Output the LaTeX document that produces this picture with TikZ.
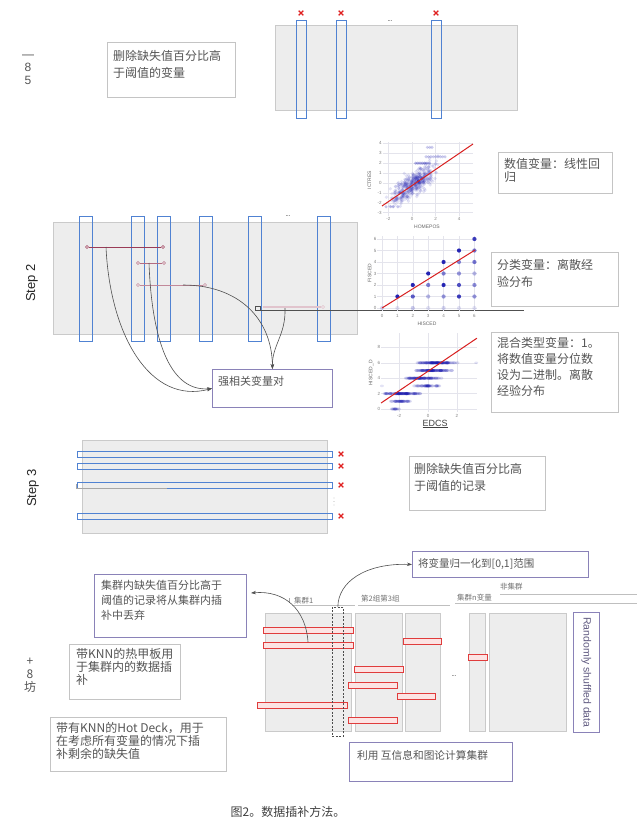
\documentclass[tikz,border=0pt]{standalone}
\usepackage{fontspec}
\setmainfont{Liberation Sans}
\newfontfamily\cjk{Noto Sans CJK SC}
\usetikzlibrary{arrows.meta}
\definecolor{txt}{HTML}{555555}
\definecolor{boxgray}{HTML}{C4C4C4}
\definecolor{purp}{HTML}{8A82B8}
\definecolor{datafill}{HTML}{EDEDED}
\definecolor{dataedge}{HTML}{CACACA}
\definecolor{barblue}{HTML}{5082D2}
\definecolor{redx}{HTML}{E02020}
\definecolor{redbar}{HTML}{E03C3C}
\definecolor{redfill}{HTML}{FCE4E4}
\definecolor{maroon}{HTML}{9A3B57}
\definecolor{conncol}{HTML}{505050}
\definecolor{gridc}{HTML}{E4E4EC}
\definecolor{dotblue}{HTML}{1A1AB0}
\definecolor{regred}{HTML}{D82020}
\newcommand\mkredx[2]{\draw[redx, line width=1.3pt] (#1-2.3,#2-2.3) -- (#1+2.3,#2+2.3) (#1-2.3,#2+2.3) -- (#1+2.3,#2-2.3);}
\begin{document}
\begin{tikzpicture}[x=1pt,y=-1pt,
  databox/.style={fill=datafill, draw=dataedge, line width=0.7pt},
  bluebar/.style={draw=barblue, fill=none, line width=0.8pt},
  redrect/.style={draw=redbar, fill=redfill, line width=0.8pt},
  graybox/.style={draw=boxgray, line width=0.8pt, fill=white, anchor=north west, inner sep=0pt},
  purpbox/.style={draw=purp, line width=0.9pt, fill=white, anchor=north west, inner sep=0pt},
  boxtext/.style={anchor=north west, inner sep=0pt, align=left, text=txt},
  conn/.style={draw=conncol, line width=0.6pt, -{Stealth[length=5pt,width=3.5pt]}},
  paircirc/.style={circle, draw=maroon, fill=white, inner sep=0pt, minimum size=3pt, line width=0.6pt},
  ticklab/.style={font=\fontsize{4.5}{5}\selectfont, text=gray, inner sep=0.8pt},
  axlab/.style={font=\fontsize{5}{6}\selectfont, text=gray!80!black, inner sep=0pt},
  cluslab/.style={font=\cjk\fontsize{7.5}{8}\selectfont, text=gray!90!black, inner sep=0pt},
  steplab/.style={rotate=90, font=\fontsize{13}{14}\selectfont, text=black!85, inner sep=0pt}]
\useasboundingbox (0,0) rectangle (641,828);
\fill[white] (0,0) rectangle (641,828);

%%%%%%%%%%%%%%%% STEP 1
\node[font=\fontsize{12}{13}\selectfont, text=txt, align=center, inner sep=0pt] (s1lab) at (28,70) {—\\8\\5};
\draw[databox] (275,25) rectangle (517,110);
\foreach \bx in {296,336,431}{\draw[bluebar] (\bx,20) rectangle (\bx+10,118);}
\mkredx{301}{13}\mkredx{341}{13}\mkredx{436}{13}
\node[font=\fontsize{6}{6}\selectfont, inner sep=0pt] (s1dots) at (390,21) {...};
\node[graybox, minimum width=128pt, minimum height=55pt] (b1) at (107,42) {};
\node[boxtext, font=\cjk\fontsize{12}{17}\selectfont] (t1) at (113,50) {删除缺失值百分比高\\于阈值的变量};

%%%%%%%%%%%%%%%% STEP 2
\node[steplab] (s2lab) at (32,283) {Step 2};
\draw[databox] (53,222) rectangle (357,334);
\foreach \bx in {79,131,157,199,248,317}{\draw[bluebar] (\bx,216) rectangle (\bx+13,341);}
\node[font=\fontsize{6}{6}\selectfont, inner sep=0pt] (s2dots) at (288,216) {...};
\draw[conncol, line width=0.7pt] (255,310) -- (255,306.5) -- (260,306.5) -- (260,310);
\draw[conncol, line width=0.7pt] (255,310) -- (524,310);
\node[paircirc] (p1a) at (87,247) {};
\node[paircirc] (p1b) at (163,247) {};
\draw[maroon, line width=0.8pt] (p1a) -- (p1b);
\node[paircirc, draw=maroon!75] (p2a) at (138,263) {};
\node[paircirc, draw=maroon!75] (p2b) at (164,263) {};
\draw[maroon!75, line width=0.8pt] (p2a) -- (p2b);
\node[paircirc, draw=maroon!60] (p3a) at (138,285) {};
\node[paircirc, draw=maroon!60] (p3b) at (205,285) {};
\draw[maroon!60, line width=0.8pt] (p3a) -- (p3b);
\node[paircirc, draw=maroon!35] (p4b) at (323,307) {};
\draw[maroon!30, line width=1.6pt] (263,307) -- (p4b);
\coordinate (q1) at (106,247);
\coordinate (q2) at (149,263);
\coordinate (q3) at (183,285);
\coordinate (q4) at (285,308);
\node[purpbox, minimum width=120pt, minimum height=38pt] (b2) at (212,369) {};
\node[boxtext, font=\cjk\fontsize{11}{13}\selectfont] (t2) at (218,376) {强相关变量对};
\draw[conn] (q1) .. controls (110,335) and (150,405) .. (b2.west);
\draw[conn] (q2) .. controls (152,345) and (172,392) .. (b2.west);
\draw[conn] (q3) .. controls (238,285) and (272,318) .. (b2.north);
\draw[conn] (q4) .. controls (286,335) and (272,345) .. (b2.north);

%%%%%%%%%%%%%%%% PLOT 1
\begin{scope}[shift={(412,183)}, x=11.8pt, y=9.9pt]
  \foreach \gx in {-2,0,2,4}{\draw[gridc, line width=0.5pt] (\gx,-3.35) -- (\gx,4.15);}
  \foreach \gy in {-3,...,4}{\draw[gridc, line width=0.5pt] (-2.5,\gy) -- (5.2,\gy);}
  \foreach \gy [count=\k] in {-3,...,4}{\node[ticklab, anchor=east] (pay\k) at (-2.5,\gy) {\gy};}
  \foreach \gx [count=\k] in {-2,0,2,4}{\node[ticklab, anchor=north] (pax\k) at (\gx,-3.35) {\gx};}
  \node[axlab] (pxl) at (1.27,-4.45) {HOMEPOS};
  \node[axlab, rotate=90] (pyl) at (-3.6,0.3) {ICTRES};
  \begin{scope}
    \clip (-2.5,-3.35) rectangle (5.2,4.15);
    \pgfmathsetseed{42}
    \foreach \i in {1,...,480}{
      \pgfmathsetmacro\sa{rand+rand+rand}
      \pgfmathsetmacro\sb{rand+rand+rand}
      \pgfmathsetmacro\px{0.15+0.85*\sa}
      \pgfmathsetmacro\py{-0.1+0.75*(\px-0.15)+0.6*\sb}
      \fill[dotblue, opacity=0.12] (\px,\py) circle (1.8pt);
    }
    \foreach \px in {0.3,0.45,...,1.6}{\fill[dotblue, opacity=0.3] (\px,2) circle (1.7pt);}
    \foreach \px in {1.2,1.4,...,2.8}{\fill[dotblue, opacity=0.22] (\px,2.65) circle (1.7pt);}
    \foreach \px in {1.3,1.5,1.7}{\fill[dotblue, opacity=0.22] (\px,3.6) circle (1.7pt);}
    \foreach \px in {-1.8,-1.6,-1.2,-2.2}{\fill[dotblue, opacity=0.25] (\px,-2.4) circle (1.7pt);}
  \end{scope}
  \draw[regred, line width=1pt] (-2.54,-2.32) -- (5.17,3.94);
\end{scope}
\node[graybox, minimum width=114pt, minimum height=41pt] (b3) at (498,152) {};
\node[boxtext, font=\cjk\fontsize{12}{13.5}\selectfont] (t3) at (504,158) {数值变量：线性回\\归};

%%%%%%%%%%%%%%%% PLOT 2
\begin{scope}[shift={(382,308)}, x=15.4pt, y=11.5pt]
  \foreach \gx in {0,...,6}{\draw[gridc, line width=0.5pt] (\gx,-0.25) -- (\gx,6.3);}
  \foreach \gy in {0,...,6}{\draw[gridc, line width=0.5pt] (-0.3,\gy) -- (6.2,\gy);}
  \foreach \gy [count=\k] in {0,...,6}{\node[ticklab, anchor=east] (pby\k) at (-0.3,\gy) {\gy};}
  \foreach \gx [count=\k] in {0,...,6}{\node[ticklab, anchor=north] (pbx\k) at (\gx,-0.5) {\gx};}
  \node[axlab] (pbxl) at (2.92,-1.4) {HISCED};
  \node[axlab, rotate=90] (pbyl) at (-0.8,3.04) {FISCED};
  \foreach \px/\py/\op in {0/0/0.15,1/0/0.12,2/0/0.22,3/0/0.12,4/0/0.18,5/0/0.12,6/0/0.12,
     1/1/0.95,2/1/0.7,3/1/0.3,4/1/0.45,5/1/0.85,6/1/0.45,
     2/2/0.95,3/2/0.55,4/2/0.95,5/2/0.75,6/2/0.5,
     3/3/0.95,4/3/0.55,5/3/0.45,6/3/0.3,
     4/4/0.95,5/4/0.5,6/4/0.6,
     5/5/0.95,6/5/0.6,6/6/0.85}{
    \fill[dotblue, opacity=\op] (\px,\py) circle (2.1pt);
  }
  \draw[regred, line width=1pt] (0,0) -- (6.04,5.04);
\end{scope}
\node[graybox, minimum width=127pt, minimum height=54pt] (b4) at (491,252) {};
\node[boxtext, font=\cjk\fontsize{12}{17}\selectfont] (t4) at (497,259) {分类变量：离散经\\验分布};

%%%%%%%%%%%%%%%% PLOT 3
\begin{scope}[shift={(428,409)}, x=14.4pt, y=7.7pt]
  \foreach \gx in {-2,0,2}{\draw[gridc, line width=0.5pt] (\gx,-0.4) -- (\gx,9.9);}
  \foreach \gy in {0,2,...,8}{\draw[gridc, line width=0.5pt] (-3.26,\gy) -- (3.4,\gy);}
  \foreach \gy [count=\k] in {0,2,...,8}{\node[ticklab, anchor=east] (pcy\k) at (-3.26,\gy) {\gy};}
  \foreach \gx [count=\k] in {-2,0,2}{\node[ticklab, anchor=north] (pcx\k) at (\gx,-0.6) {\gx};}
  \node[font=\fontsize{9}{10}\selectfont, text=black!75, inner sep=0pt] (pcxl) at (0.49,-1.95) {\underline{EDCS}};
  \node[axlab, rotate=90] (pcyl) at (-3.95,4.68) {HISCED\_D};
  \pgfmathsetseed{7}
  \foreach \yy/\xa/\xb/\n in {0/-2.6/-1.9/10, 1/-2.7/-1.2/30, 2/-3.1/-0.3/80, 3/-1.1/0.9/35, 4/-1.9/1.1/70, 5/-1.1/1.9/80, 6/-0.9/2.1/95}{
    \foreach \i in {1,...,\n}{
      \pgfmathsetmacro\px{\xa+(\xb-\xa)*(rnd+rnd)/2}
      \fill[dotblue, opacity=0.16] (\px,\yy) ellipse (2.2pt and 1.5pt);
    }
  }
  \fill[dotblue, opacity=0.12] (3.35,6) ellipse (2pt and 1.3pt);
  \fill[dotblue, opacity=0.12] (-3.2,3) ellipse (2pt and 1.3pt);
  \draw[regred, line width=1pt] (-3.26,0.78) -- (3.4,9.2);
\end{scope}
\node[graybox, minimum width=127pt, minimum height=80pt] (b5) at (491,332) {};
\node[boxtext, font=\cjk\fontsize{12}{16}\selectfont] (t5) at (497,337) {混合类型变量：1。\\将数值变量分位数\\设为二进制。离散\\经验分布};

%%%%%%%%%%%%%%%% STEP 3
\node[steplab] (s3lab) at (33,488) {Step 3};
\draw[databox] (82,440) rectangle (327,533);
\foreach \ry in {451,463,482,513}{\draw[bluebar] (77,\ry) rectangle (332,\ry+6);}
\mkredx{341}{454}\mkredx{341}{466}\mkredx{341}{485}\mkredx{341}{516}
\foreach \dy in {498,501.5,505}{\fill[gray] (334,\dy) circle (0.45pt);}
\draw[gray!70, line width=0.7pt] (76,484) -- (76,488) -- (167,488);
\node[graybox, minimum width=136pt, minimum height=54pt] (b6) at (409,456) {};
\node[boxtext, font=\cjk\fontsize{12}{17}\selectfont] (t6) at (414,463) {删除缺失值百分比高\\于阈值的记录};

%%%%%%%%%%%%%%%% STEP 4
\node[font=\cjk\fontsize{12}{13}\selectfont, text=txt, align=center, inner sep=0pt] (s4lab) at (30,675) {+\\8\\坊};
\node[purpbox, minimum width=152pt, minimum height=63pt] (bA) at (94,574) {};
\node[boxtext, font=\cjk\fontsize{11}{15}\selectfont] (tA) at (101,580) {集群内缺失值百分比高于\\阈值的记录将从集群内插\\补中丢弃};
\node[graybox, minimum width=111pt, minimum height=55pt] (bB) at (69,644) {};
\node[boxtext, font=\cjk\fontsize{12}{13}\selectfont] (tB) at (76,648) {带KNN的热甲板用\\于集群内的数据插\\补};
\node[graybox, minimum width=176pt, minimum height=54pt] (bC) at (50,717) {};
\node[boxtext, font=\cjk\fontsize{12}{13}\selectfont] (tC) at (56,722) {带有KNN的Hot Deck，用于\\在考虑所有变量的情况下插\\补剩余的缺失值};

\draw[gray!70, line width=0.6pt] (289,598) -- (289,603);
\node[cluslab, anchor=west] (cl1) at (294,601) {集群1};
\draw[gray!50, line width=0.5pt] (292,605) -- (355,605);
\node[cluslab, anchor=west] (cl2) at (361,599) {第2组第3组};
\draw[gray!50, line width=0.5pt] (358,605) -- (450,605);
\node[cluslab, anchor=west] (cl3) at (457,598) {集群n变量};
\draw[gray!50, line width=0.5pt] (455,603) -- (637,603);
\node[cluslab, anchor=west] (cl4) at (500,587) {非集群};
\draw[gray!50, line width=0.5pt] (500,594) -- (637,594);

\draw[databox] (265,613) rectangle (351,731);
\draw[databox] (355,613) rectangle (402,731);
\draw[databox] (405,613) rectangle (440,731);
\draw[databox] (469,613) rectangle (485,731);
\draw[databox] (489,613) rectangle (566,731);
\node[font=\fontsize{6}{6}\selectfont, inner sep=0pt] (s4dots) at (454,676) {...};

\draw[redrect] (263,627) rectangle (353,633);
\draw[redrect] (263,642) rectangle (353,648);
\draw[redrect] (257,702) rectangle (347,708);
\draw[redrect] (354,666) rectangle (403,672);
\draw[redrect] (348,682) rectangle (397,688);
\draw[redrect] (348,717) rectangle (397,723);
\draw[redrect] (403,638) rectangle (441,644);
\draw[redrect] (397,693) rectangle (435,699);
\draw[redrect] (468,654) rectangle (487,660);

\node[draw=black!70, dash pattern=on 2pt off 1.5pt, line width=0.7pt, anchor=north west, inner sep=0pt, minimum width=11pt, minimum height=129pt] (dcol) at (332,607) {};

\node[purpbox, minimum width=176pt, minimum height=26pt] (bN) at (412,551) {};
\node[boxtext, anchor=west, font=\cjk\fontsize{10.5}{12}\selectfont] (tN) at (418,564) {将变量归一化到[0,1]范围};
\node[purpbox, minimum width=163pt, minimum height=39pt] (bK) at (349,742) {};
\node[boxtext, font=\cjk\fontsize{10.7}{12}\selectfont] (tK) at (357,750) {利用 互信息和图论计算集群};
\node[purpbox, minimum width=26pt, minimum height=120pt] (bR) at (573,612) {};
\node[rotate=-90, font=\fontsize{10.5}{12}\selectfont, text=purp!70!black, inner sep=0pt] (tR) at (bR.center) {Randomly shuffled data};

\coordinate (a1s) at (308,642);
\coordinate (a1e) at (251,593);
\draw[conn] (a1s) .. controls (306,610) and (285,590) .. (a1e);
\draw[conn] (dcol.north) .. controls (338,582) and (365,563) .. (bN.west);

%%%%%%%%%%%%%%%% CAPTION
\node[font=\cjk\fontsize{12}{13}\selectfont, text=black!75, inner sep=0pt] (cap) at (288,812) {图2。数据插补方法。};
\end{tikzpicture}
\end{document}
